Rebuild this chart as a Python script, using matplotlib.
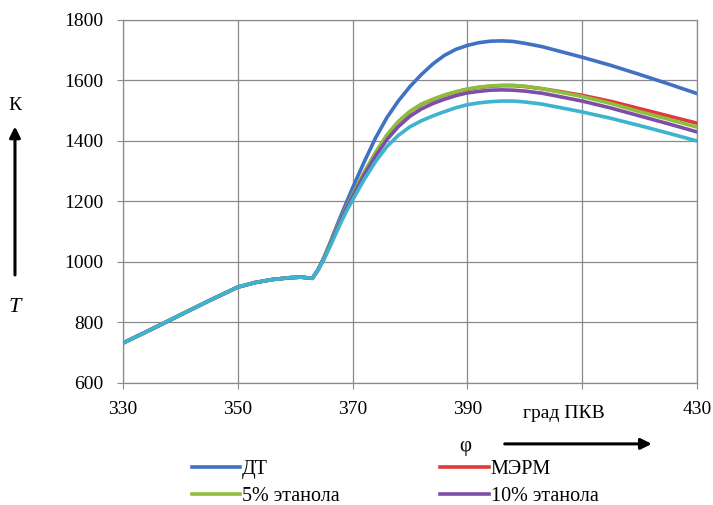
import matplotlib
matplotlib.use("Agg")
import matplotlib.pyplot as plt

plt.rcParams['font.family'] = ['Liberation Serif', 'DejaVu Serif']

# crank angle, deg
phi = [330, 335, 340, 345, 350, 353, 356, 359, 361, 362, 363, 364, 365, 366, 367,
       368, 369, 370, 372, 374, 376, 378, 380, 382, 384, 386, 388, 390, 392, 394,
       396, 398, 400, 403, 406, 410, 415, 420, 425, 430]

# common compression part (330..363)
t_common = [732, 778, 825, 872, 917, 932, 942, 948, 950, 948, 946]

t_dt = t_common + [975, 1015, 1060, 1108, 1155, 1200, 1245, 1330, 1410, 1478, 1533,
                   1580, 1620, 1655, 1683, 1703, 1716, 1725, 1730, 1731, 1729, 1723,
                   1712, 1697, 1677, 1650, 1620, 1589, 1557]
t_merm = t_common + [975, 1012, 1055, 1100, 1144, 1184, 1221, 1294, 1361, 1419, 1464,
                     1497, 1521, 1537, 1551, 1562, 1571, 1577, 1581, 1583, 1583, 1580,
                     1573, 1564, 1551, 1531, 1507, 1483, 1459]
t_eth5 = t_common + [975, 1012, 1055, 1100, 1145, 1185, 1222, 1295, 1362, 1420, 1465,
                     1498, 1522, 1538, 1552, 1563, 1572, 1578, 1582, 1584, 1584, 1581,
                     1573, 1562, 1547, 1524, 1497, 1472, 1446]
t_eth10 = t_common + [975, 1010, 1052, 1096, 1140, 1180, 1216, 1287, 1350, 1405, 1448,
                      1482, 1506, 1524, 1538, 1550, 1559, 1564, 1568, 1569, 1568, 1565,
                      1558, 1547, 1532, 1509, 1483, 1457, 1430]
t_fifth = t_common + [975, 1008, 1048, 1090, 1132, 1170, 1205, 1272, 1332, 1382, 1419,
                      1447, 1467, 1483, 1497, 1510, 1520, 1526, 1530, 1532, 1532, 1529,
                      1522, 1511, 1496, 1475, 1451, 1426, 1400]

labels = ["ДТ", "МЭРМ", "5% этанола", "10% этанола"]
x_ticks = [330, 350, 370, 390, 410, 430]
x_ticklabels = ["330", "350", "370", "390", "", "430"]
y_ticks = [600, 800, 1000, 1200, 1400, 1600, 1800]

fig = plt.figure(figsize=(7.13, 5.05), dpi=100)
ax = fig.add_axes([0.1725, 0.2416, 0.805, 0.7188])

lw = 2.6
l_dt, = ax.plot(phi, t_dt, color="#3f72c2", lw=lw, label=labels[0])
l_merm, = ax.plot(phi, t_merm, color="#e03b3b", lw=lw, label=labels[1])
l_e5, = ax.plot(phi, t_eth5, color="#8bbf3c", lw=lw, label=labels[2])
l_e10, = ax.plot(phi, t_eth10, color="#7d4ea6", lw=lw, label=labels[3])
ax.plot(phi, t_fifth, color="#3db3cf", lw=lw)

ax.set_xlim(330, 430)
ax.set_ylim(600, 1800)
ax.set_xticks(x_ticks)
ax.set_xticklabels(x_ticklabels)
ax.set_yticks(y_ticks)
ax.grid(True, color="#8a8a8a", lw=0.9)
for s in ax.spines.values():
    s.set_color("#8a8a8a")
    s.set_linewidth(0.9)
ax.tick_params(direction="out", length=4, color="#8a8a8a", labelsize=14)
ax.tick_params(axis="x", pad=9)
ax.tick_params(axis="y", pad=10)

# axis annotations
fig.text(0.791, 0.182, "град ПКВ", fontsize=14, ha="center", va="center")
fig.text(0.652, 0.115, "φ", fontsize=15, ha="center", va="center")
fig.add_artist(matplotlib.patches.FancyArrowPatch(
    (0.704, 0.121), (0.918, 0.121), transform=fig.transFigure,
    arrowstyle="-|>", mutation_scale=16, lw=2.2, color="black"))
fig.text(0.021, 0.792, "К", fontsize=14, ha="center", va="center")
fig.text(0.021, 0.392, "T", fontsize=16, style="italic", ha="center", va="center")
fig.add_artist(matplotlib.patches.FancyArrowPatch(
    (0.021, 0.45), (0.021, 0.755), transform=fig.transFigure,
    arrowstyle="-|>", mutation_scale=16, lw=2.2, color="black"))

fig.legend([l_dt, l_e5, l_merm, l_e10],
           [labels[0], labels[2], labels[1], labels[3]],
           ncol=2, loc="upper left", bbox_to_anchor=(0.269, 0.089),
           frameon=False, fontsize=14.5, handlelength=2.4, handletextpad=0.1,
           columnspacing=5.0, labelspacing=0.4, borderaxespad=0, borderpad=0)

fig.savefig("out.png", dpi=100)
